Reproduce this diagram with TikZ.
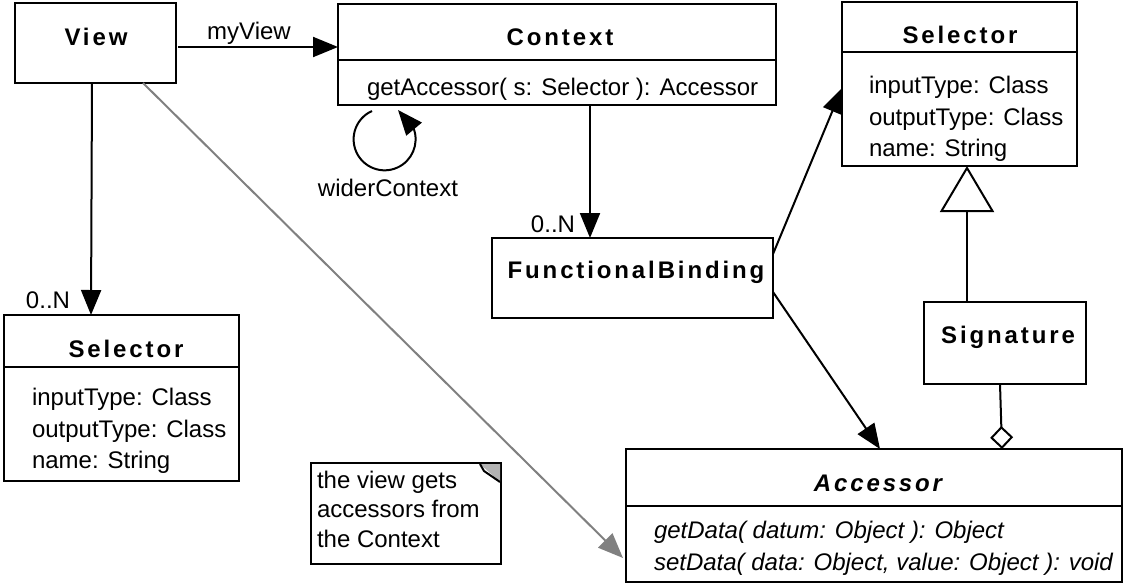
\documentclass[tikz,border=0pt]{standalone}
\usepackage{fontspec}
\setmainfont{Liberation Sans}
\newfontfamily\titlefont[LetterSpace=12]{Liberation Sans}
\usetikzlibrary{arrows.meta,calc}
\definecolor{hintgray}{RGB}{128,128,128}

\begin{document}
\begin{tikzpicture}[x=1pt,y=-1pt,
  every node/.style={font=\fontsize{24}{28}\selectfont, inner sep=0pt, outer sep=0pt},
  box/.style={draw, line width=2.2pt, anchor=north west, fill=white},
  sepline/.style={line width=2.2pt},
  ttl/.style={anchor=base, font=\fontsize{24}{28}\selectfont\titlefont\bfseries},
  attr/.style={anchor=base west},
  lbl/.style={anchor=base},
  conn/.style={line width=2pt, -{Triangle[length=25pt,width=20pt]}},
  hint/.style={line width=2pt, draw=hintgray, -{Triangle[length=25pt,width=20pt,fill=hintgray]}},
  inherit/.style={line width=2pt, -{Triangle[open,length=46pt,width=54pt,fill=white]}},
  aggr/.style={line width=2pt, -{Diamond[open,length=23pt,width=23pt,fill=white]}}
]
\useasboundingbox (0,0) rectangle (1124,584);

% class boxes
\node[box, minimum width=161pt, minimum height=80pt]  (view) at (15,3) {};
\node[box, minimum width=438pt, minimum height=101pt] (ctx)  at (338,4) {};
\node[box, minimum width=235pt, minimum height=164pt] (selr) at (842,2) {};
\node[box, minimum width=281pt, minimum height=80pt]  (fb)   at (492,238) {};
\node[box, minimum width=162pt, minimum height=82pt]  (sig)  at (924,302) {};
\node[box, minimum width=496pt, minimum height=133pt] (acc)  at (626,449) {};
\node[box, minimum width=235pt, minimum height=166pt] (sell) at (4,315) {};
\node[box, minimum width=190pt, minimum height=101pt] (note) at (311,463) {};

% compartment separators
\draw[sepline] ($(ctx.north west)+(0,56)$)  -- ($(ctx.north east)+(0,56)$);
\draw[sepline] ($(selr.north west)+(0,50)$) -- ($(selr.north east)+(0,50)$);
\draw[sepline] ($(acc.north west)+(0,57)$)  -- ($(acc.north east)+(0,57)$);
\draw[sepline] ($(sell.north west)+(0,52)$) -- ($(sell.north east)+(0,52)$);

% titles
\node[ttl] (tview) at (96,45)   {View};
\node[ttl] (tctx)  at (560,45)  {Context};
\node[ttl] (tselr) at (960,43)  {Selector};
\node[ttl] (tfb)   at (636,278) {FunctionalBinding};
\node[ttl] (tsig)  at (1008,343){Signature};
\node[ttl] (tacc)  at (878,491) {\itshape Accessor};
\node[ttl] (tsell) at (126,357) {Selector};

% members
\node[attr] (mctx) at (367,95) {getAccessor( s: Selector ): Accessor};
\node[attr] (ar1) at (869,93)  {inputType: Class};
\node[attr] (ar2) at (869,125) {outputType: Class};
\node[attr] (ar3) at (869,156) {name: String};
\node[attr] (al1) at (32,405)  {inputType: Class};
\node[attr] (al2) at (32,437)  {outputType: Class};
\node[attr] (al3) at (32,468)  {name: String};
\node[attr] (m1)  at (654,538) {\itshape getData( datum: Object ): Object};
\node[attr] (m2)  at (654,570) {\itshape setData( data: Object, value: Object ): void};

% note text and folded corner
\node[attr] (n1) at (317,488) {the view gets};
\node[attr] (n2) at (317,517) {accessors from};
\node[attr] (n3) at (317,547) {the Context};
\fill[gray!60] ($(note.north east)+(-21,1)$) -- ($(note.north east)+(-1,1)$) -- ($(note.north east)+(-1,19)$) -- cycle;
\draw[line width=2pt] ($(note.north east)+(-21,1)$) -- ($(note.north east)+(-17,8)$) -- ($(note.north east)+(-1,19)$);

% connectors
\draw[conn] ($(view.east)+(2,4)$) -- ($(ctx.west)+(0,-7.5)$);
\node[lbl] (lmy) at (249,39) {myView};

\draw[conn] ($(ctx.south west)+(34,6)$) arc[start angle=246, end angle=-20, radius=31]
            -- ($(ctx.south west)+(60,5)$);
\node[lbl] (lwc) at (388,196) {widerContext};

\draw[conn] ($(ctx.south west)+(252,0)$) -- ($(fb.north west)+(98,0)$);
\node[anchor=base east] (m0n1) at (575,232) {0..N};

\draw[conn] ($(view.south west)+(77,0)$) -- ($(sell.north west)+(87,0)$);
\node[anchor=base east] (m0n2) at (70,308) {0..N};

\draw[conn] ($(fb.north east)+(0,16)$) -- ($(selr.north west)+(0,86)$);
\draw[conn] ($(fb.north east)+(0,54)$) -- ($(acc.north west)+(254,0)$);
\draw[hint] ($(view.south west)+(128,0)$) -- ($(acc.north west)+(-3,109)$);

\draw[inherit] ($(sig.north west)+(43,0)$) -- ($(selr.south west)+(125,0)$);
\draw[aggr] ($(sig.south west)+(76,0)$) -- ($(acc.north west)+(376,0)$);
\end{tikzpicture}
\end{document}
